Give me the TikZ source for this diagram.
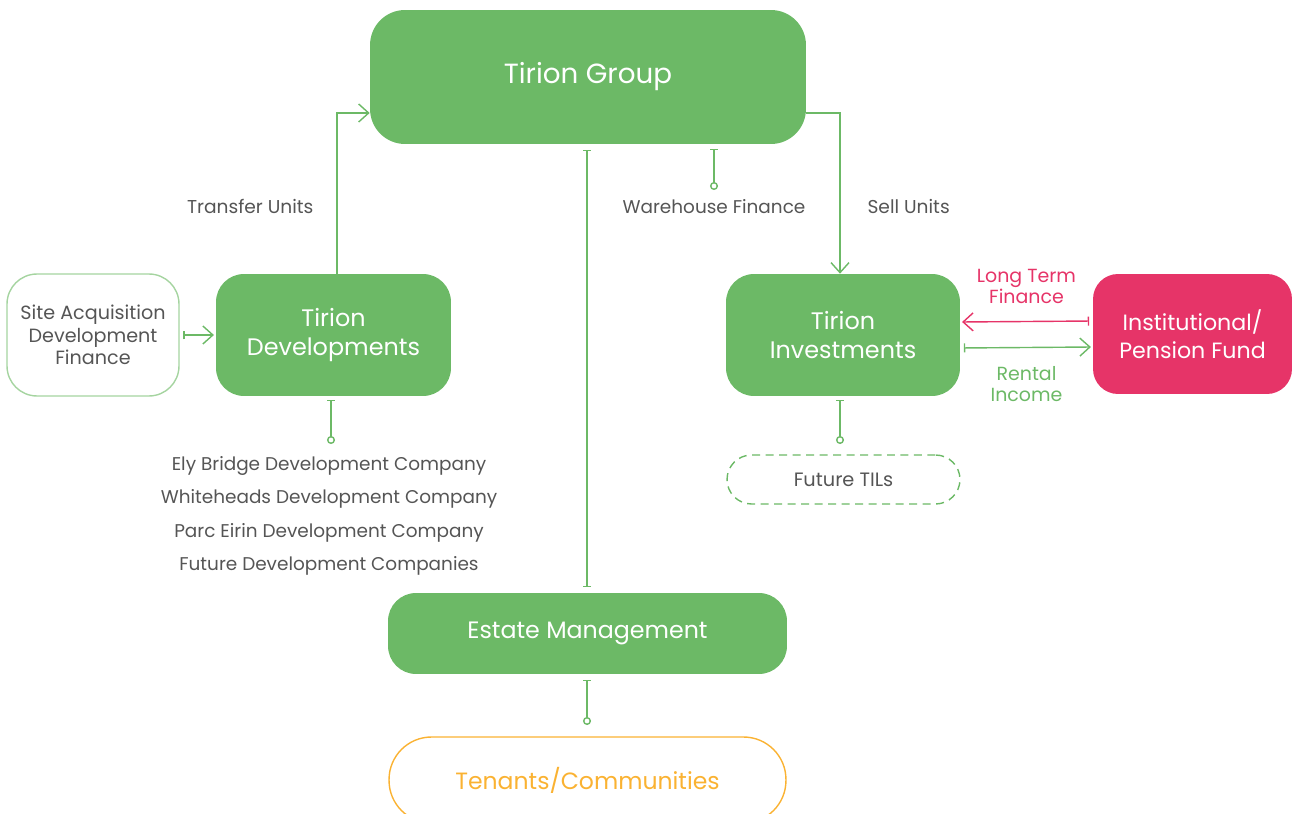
\documentclass[tikz,border=0pt]{standalone}
\usepackage{fontspec}
\setmainfont{Poppins}
\usetikzlibrary{arrows.meta,positioning}
\definecolor{tgreen}{RGB}{108,185,102}
\definecolor{tlight}{RGB}{165,212,160}
\definecolor{tpink}{RGB}{230,52,104}
\definecolor{torange}{RGB}{250,178,50}
\definecolor{tgrey}{RGB}{85,85,85}

\begin{document}
\begin{tikzpicture}[x=0.02cm,y=-0.02cm,
        font=\fontsize{10.6}{12}\selectfont,text=tgrey,
        b/.style={fill=tgreen,text=white,align=center,
          font=\fontsize{13.6}{16.5}\selectfont},
        a/.style={-{Straight Barb[length=2mm,width=3.6mm]},line width=0.8pt,draw=tgreen},
        ba/.style={{Bar[width=1.8mm]}-{Straight Barb[length=2mm,width=3.6mm]},line width=0.8pt},
        bc/.style={{Bar[width=1.6mm]}-{Circle[open,length=1.6mm,fill=white]},
          line width=0.8pt,draw=tgreen},
        bb/.style={{Bar[width=1.6mm]}-{Bar[width=1.6mm]},line width=0.8pt,draw=tgreen}]
  \useasboundingbox (0,0) rectangle (1292,814);

  % main boxes
  \node[b,rounded corners=0.7cm,minimum width=8.72cm,minimum height=2.68cm,
    font=\fontsize{15.8}{17}\selectfont] (group) at (588,77) {Tirion Group};
  \node[b,rounded corners=0.56cm,minimum width=4.7cm,minimum height=2.44cm]
    (devs) at (333.5,335) {Tirion\\Developments};
  \node[b,rounded corners=0.56cm,minimum width=4.68cm,minimum height=2.44cm]
    (invest) at (843,335) {Tirion\\Investments};
  \node[b,fill=tpink,rounded corners=0.5cm,minimum width=3.98cm,minimum height=2.4cm,
    font=\fontsize{12.6}{16}\selectfont] (fund) at (1192.5,334) {Institutional/\\Pension Fund};
  \node[b,rounded corners=0.56cm,minimum width=7.98cm,minimum height=1.62cm,
    font=\fontsize{13.5}{16}\selectfont] (estate) at (587.5,633.5) {Estate Management};
  \node[draw=torange,line width=0.8pt,rounded corners=0.85cm,minimum width=7.94cm,
    minimum height=1.72cm,text=torange,font=\fontsize{13.4}{15}\selectfont]
    (tenants) at (587.5,780) {Tenants/Communities};
  \node[draw=tlight,line width=0.8pt,rounded corners=0.6cm,minimum width=3.44cm,
    minimum height=2.44cm,align=center,font=\fontsize{10.9}{12.8}\selectfont]
    (siteacq) at (93,335) {Site Acquisition\\Development\\Finance};
  \node[draw=tgreen,dashed,dash pattern=on 1.6mm off 1.1mm,line width=0.8pt,
    rounded corners=0.49cm,minimum width=4.66cm,minimum height=0.98cm,
    font=\fontsize{11}{13}\selectfont] (tils) at (843.5,479.5) {Future TILs};

  % units moving between group and subsidiaries
  \draw[a] ([xshift=0.07cm]devs.north) |- ([yshift=-0.72cm]group.west)
    node[pos=0.21,left=0.34cm] {Transfer Units};
  \draw[a] ([yshift=-0.72cm]group.east) -| ([xshift=-0.06cm]invest.north)
    node[pos=0.79,right=0.42cm] {Sell Units};
  \draw[ba,draw=tgreen,shorten <=2pt,shorten >=1pt] (siteacq) -- (devs);

  % finance to and from the fund
  \draw[ba,draw=tpink,shorten <=2pt,shorten >=1pt]
    ([yshift=0.26cm]fund.west) -- ([yshift=0.26cm]invest.east)
    node[midway,above=0.22cm,text=tpink,align=center,font=\fontsize{10.8}{12}\selectfont]
    {Long Term\\Finance};
  \draw[ba,draw=tgreen,shorten <=2pt,shorten >=1pt]
    ([yshift=-0.26cm]invest.east) -- ([yshift=-0.26cm]fund.west)
    node[midway,below=0.24cm,text=tgreen,align=center,font=\fontsize{10.8}{12}\selectfont]
    {Rental\\Income};

  % stubs
  \coordinate (whf) at (714,190);
  \coordinate (devc) at (331,444);
  \coordinate (invc) at (840,444);
  \coordinate (estc) at (587,725);
  \draw[bc] (714,149) -- (whf);
  \node[below=0.06cm of whf,font=\fontsize{10.5}{12}\selectfont] (whlabel) {Warehouse Finance};
  \draw[bc,shorten <=2pt] (devs.south -| devc) -- (devc);
  \draw[bc,shorten <=2pt] (invest.south -| invc) -- (invc);
  \draw[bc,shorten <=3pt] (estate.south -| estc) -- (estc);
  \draw[bb,shorten <=3pt,shorten >=3pt] (group.south -| 587,0) -- (estate.north -| 587,0);

  \node[below=0.12cm of devc,xshift=-0.04cm,align=center,font=\fontsize{10.5}{19}\selectfont]
    (devcos) {Ely Bridge Development Company\\Whiteheads Development Company\\
    Parc Eirin Development Company\\Future Development Companies};
\end{tikzpicture}
\end{document}
